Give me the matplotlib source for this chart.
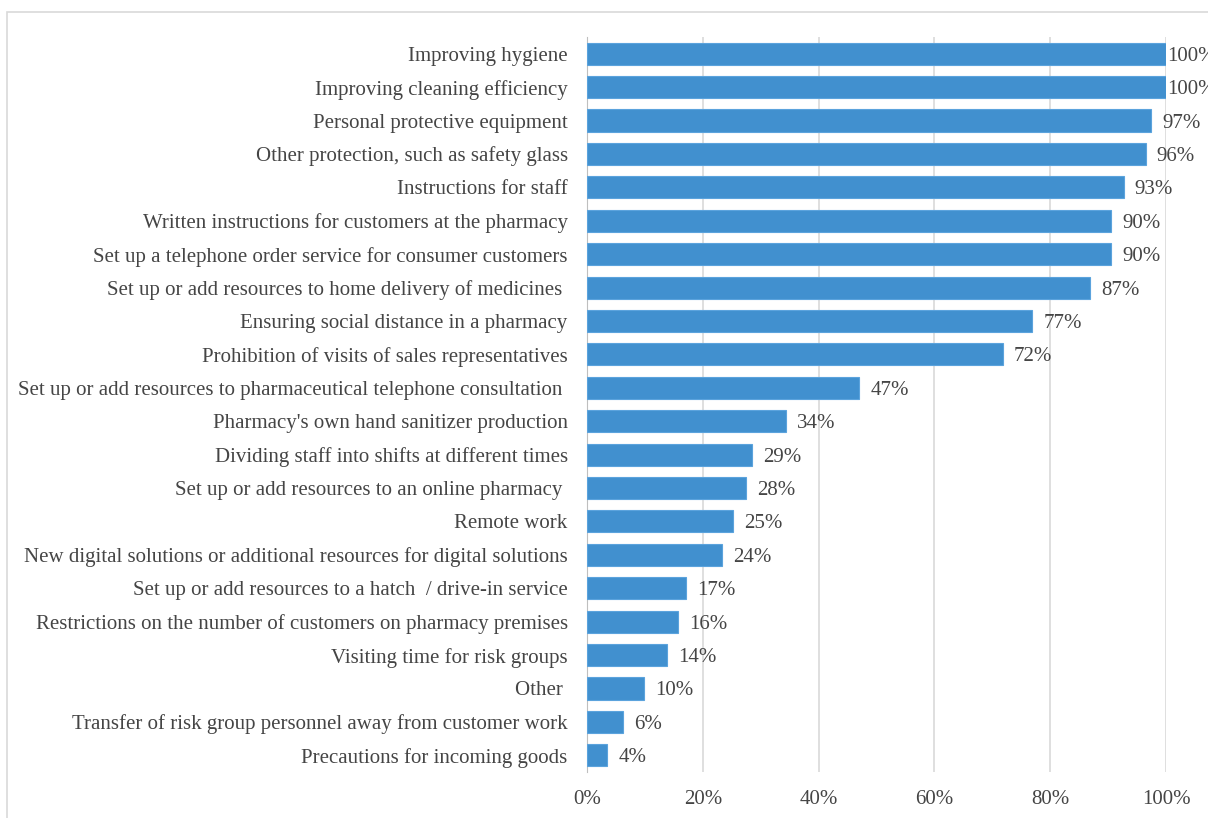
import matplotlib
matplotlib.use("Agg")
import matplotlib.pyplot as plt
from matplotlib.patches import Rectangle

measures = [
    "Improving hygiene",
    "Improving cleaning efficiency",
    "Personal protective equipment",
    "Other protection, such as safety glass",
    "Instructions for staff",
    "Written instructions for customers at the pharmacy",
    "Set up a telephone order service for consumer customers",
    "Set up or add resources to home delivery of medicines ",
    "Ensuring social distance in a pharmacy",
    "Prohibition of visits of sales representatives",
    "Set up or add resources to pharmaceutical telephone consultation ",
    "Pharmacy's own hand sanitizer production",
    "Dividing staff into shifts at different times",
    "Set up or add resources to an online pharmacy ",
    "Remote work",
    "New digital solutions or additional resources for digital solutions",
    "Set up or add resources to a hatch  / drive-in service",
    "Restrictions on the number of customers on pharmacy premises",
    "Visiting time for risk groups",
    "Other ",
    "Transfer of risk group personnel away from customer work",
    "Precautions for incoming goods",
]
share = [100, 100, 97.4, 96.5, 92.7, 90.5, 90.5, 86.9, 76.9, 71.8, 47.0, 34.4,
         28.5, 27.5, 25.2, 23.3, 17.1, 15.7, 13.8, 9.8, 6.2, 3.5]
share_labels = ["100%", "100%", "97%", "96%", "93%", "90%", "90%", "87%", "77%",
                "72%", "47%", "34%", "29%", "28%", "25%", "24%", "17%", "16%",
                "14%", "10%", "6%", "4%"]

plt.rcParams['font.family'] = ['Liberation Serif', 'DejaVu Serif']
txt = '#454545'

fig = plt.figure(figsize=(12.08, 8.18), dpi=100)
ax = fig.add_axes([0.486, 0.0562, 0.4793, 0.8986])

# chart area frame
fig.patches.append(Rectangle((7 / 1208, -0.1), 1.2, 1 - 12 / 818 + 0.1,
                             transform=fig.transFigure, fill=False,
                             edgecolor='#D9D9D9', linewidth=1.2))

y = list(range(len(measures)))
ax.barh(y, share, height=0.66, color='#4190CF', edgecolor='#5BA3DD', linewidth=0.8, zorder=3)

for yi, v, lab in zip(y, share, share_labels):
    off = 0.2 if v >= 99 else 1.9
    ax.text(v + off, yi, lab, va='center_baseline', ha='left', fontsize=15,
            color=txt, clip_on=False)

ax.set_ylim(len(measures) - 0.5, -0.5)
ax.set_xlim(0, 100)
ax.set_yticks(y)
ax.set_yticklabels(measures, fontsize=15, color=txt, va='center_baseline')
ax.set_xticks([0, 20, 40, 60, 80, 100])
ax.set_xticklabels(["0%", "20%", "40%", "60%", "80%", "100%"], fontsize=15, color=txt)
ax.tick_params(axis='y', length=0, pad=14)
ax.tick_params(axis='x', length=0, pad=13)
ax.grid(axis='x', color='#D9D9D9', linewidth=1.2, zorder=0)
for s in ['top', 'right', 'bottom']:
    ax.spines[s].set_visible(False)
ax.spines['left'].set_color('#BFBFBF')

fig.savefig('out.png', dpi=100)
